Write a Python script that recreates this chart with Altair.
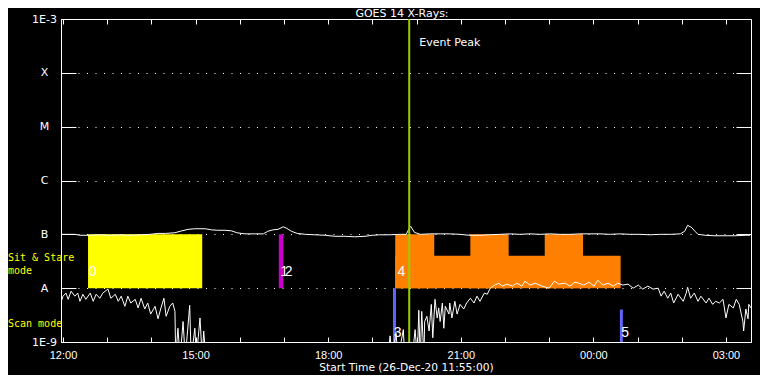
import altair as alt
import pandas as pd

# ---------------- data ----------------
START = "2020-12-26T12:00:00"   # minutes below are counted from this time (UTC)

TITLE = ["GOES 14 X-Rays:"]

# GOES long channel (1-8 A), W/m^2
long_t = [-3, 16, 23, 37, 50, 64, 77, 91, 105, 118,
          129, 139, 152, 159, 170, 179, 193, 202, 210, 220,
          229, 236, 247, 261, 272, 278, 285, 292, 299, 304,
          310, 318, 329, 342, 356, 369, 383, 396, 410, 420,
          430, 444, 458, 466, 470, 472, 477, 485, 498, 512,
          525, 539, 551, 566, 578, 593, 607, 620, 634, 648,
          661, 675, 688, 702, 715, 729, 743, 756, 770, 783,
          797, 810, 824, 838, 844, 848, 853, 858, 862, 872,
          885, 899, 912, 926, 933]
long_f = [1.00e-7, 1.00e-7, 0.96e-7, 0.96e-7, 0.98e-7, 0.96e-7, 0.98e-7, 0.96e-7, 0.98e-7, 1.00e-7,
          1.04e-7, 1.04e-7, 1.07e-7, 1.14e-7, 1.24e-7, 1.27e-7, 1.27e-7, 1.21e-7, 1.19e-7, 1.19e-7,
          1.16e-7, 1.07e-7, 1.02e-7, 1.02e-7, 1.02e-7, 1.14e-7, 1.21e-7, 1.24e-7, 1.38e-7, 1.29e-7,
          1.14e-7, 1.04e-7, 1.00e-7, 0.98e-7, 0.96e-7, 0.92e-7, 0.92e-7, 0.90e-7, 0.92e-7, 0.96e-7,
          0.98e-7, 0.98e-7, 1.00e-7, 1.00e-7, 1.29e-7, 1.41e-7, 1.09e-7, 1.00e-7, 1.02e-7, 1.02e-7,
          1.02e-7, 1.00e-7, 0.96e-7, 0.96e-7, 0.98e-7, 1.00e-7, 1.02e-7, 1.00e-7, 1.02e-7, 1.00e-7,
          1.02e-7, 1.00e-7, 1.00e-7, 1.02e-7, 1.02e-7, 1.02e-7, 1.00e-7, 1.02e-7, 1.00e-7, 1.00e-7,
          0.98e-7, 1.00e-7, 1.00e-7, 1.02e-7, 1.14e-7, 1.47e-7, 1.35e-7, 1.14e-7, 1.00e-7, 0.96e-7,
          0.94e-7, 0.94e-7, 0.94e-7, 0.96e-7, 0.96e-7]

# GOES short channel (0.5-4 A), W/m^2 (values below 1E-9 fall off the plot)
short_t = [-3, 0, 4, 7, 11, 16, 20, 23, 27, 31,
           37, 41, 45, 50, 54, 61, 65, 71, 75, 79,
           84, 88, 92, 98, 102, 106, 111, 115, 119, 125,
           129, 133, 137, 140, 145, 149, 152, 153, 156, 159,
           163, 166, 172, 174, 179, 181, 186, 189, 191, 194,
           441, 444, 447, 452, 455, 462, 464, 474, 478, 481,
           483, 485, 487, 490, 491, 494, 497, 500, 502, 505,
           508, 510, 512, 515, 517, 519, 524, 525, 528, 532,
           535, 539, 544, 548, 553, 558, 562, 566, 572, 576,
           580, 586, 592, 596, 603, 610, 616, 623, 627, 634,
           641, 650, 660, 667, 673, 682, 688, 695, 700, 707,
           714, 721, 726, 733, 740, 747, 753, 760, 767, 774,
           781, 787, 794, 801, 808, 812, 816, 821, 825, 829,
           835, 842, 846, 848, 852, 857, 862, 866, 873, 877,
           882, 886, 891, 896, 900, 904, 910, 914, 918, 923,
           924, 927, 930, 931, 934]
short_f = [0.53e-8, 0.71e-8, 0.81e-8, 0.62e-8, 0.88e-8, 0.71e-8, 0.81e-8, 0.57e-8, 0.77e-8, 0.62e-8,
           0.81e-8, 0.57e-8, 0.77e-8, 0.65e-8, 0.81e-8, 0.96e-8, 0.65e-8, 0.77e-8, 0.57e-8, 0.71e-8,
           0.46e-8, 0.71e-8, 0.53e-8, 0.62e-8, 0.43e-8, 0.65e-8, 0.41e-8, 0.53e-8, 0.33e-8, 0.46e-8,
           0.27e-8, 0.43e-8, 0.65e-8, 0.30e-8, 0.46e-8, 0.53e-8, 0.37e-8, 5e-10, 0.18e-8, 5e-10,
           0.24e-8, 5e-10, 0.48e-8, 5e-10, 0.18e-8, 5e-10, 0.28e-8, 5e-10, 0.16e-8, 5e-10,
           5e-10, 0.13e-8, 5e-10, 0.15e-8, 5e-10, 0.17e-8, 5e-10, 5e-10, 0.17e-8, 5e-10,
           0.39e-8, 5e-10, 0.37e-8, 5e-10, 0.24e-8, 0.30e-8, 0.16e-8, 0.50e-8, 0.12e-8, 0.62e-8,
           0.28e-8, 0.43e-8, 0.24e-8, 0.53e-8, 0.18e-8, 0.46e-8, 0.33e-8, 0.53e-8, 0.28e-8, 0.57e-8,
           0.33e-8, 0.50e-8, 0.41e-8, 0.53e-8, 0.65e-8, 0.53e-8, 0.71e-8, 0.57e-8, 0.81e-8, 0.77e-8,
           1.00e-8, 1.14e-8, 1.24e-8, 1.09e-8, 1.19e-8, 1.09e-8, 1.24e-8, 1.09e-8, 1.35e-8, 1.14e-8,
           1.24e-8, 1.09e-8, 1.00e-8, 1.35e-8, 1.19e-8, 1.24e-8, 1.09e-8, 1.29e-8, 1.24e-8, 1.14e-8,
           1.29e-8, 1.09e-8, 1.41e-8, 1.14e-8, 1.24e-8, 1.09e-8, 1.24e-8, 1.14e-8, 1.19e-8, 1.00e-8,
           1.14e-8, 0.96e-8, 1.09e-8, 0.96e-8, 1.00e-8, 0.71e-8, 0.88e-8, 0.65e-8, 0.81e-8, 0.53e-8,
           0.77e-8, 0.57e-8, 0.81e-8, 1.04e-8, 0.65e-8, 0.81e-8, 0.57e-8, 0.71e-8, 0.53e-8, 0.65e-8,
           0.50e-8, 0.57e-8, 0.53e-8, 0.62e-8, 0.28e-8, 0.50e-8, 0.43e-8, 0.62e-8, 0.50e-8, 0.24e-8,
           0.16e-8, 0.41e-8, 0.27e-8, 0.50e-8, 0.43e-8]

# IRIS sit & stare observations (boxes between A and B levels)
box_start = [34, 293, 451, 451, 553, 654]
box_end = [189, 299, 757, 504, 605, 706]
box_low = [1e-8, 1e-8, 1e-8, 1e-8, 1e-8, 1e-8]
box_high = [1e-7, 1e-7, 4.0e-8, 1e-7, 1e-7, 1e-7]
box_color = ["#ffff00", "#cc00cc", "#ff8000", "#ff8000", "#ff8000", "#ff8000"]

# IRIS scan observations (bars below A level)
scan_start = [448, 756]
scan_end = [452, 760]
scan_low = [1e-9, 1e-9]
scan_high = [1e-8, 4.0e-9]
scan_color = ["#6464ff", "#6464ff"]

# observation numbers
lab_text = ["0", "1", "2", "4", "3", "5"]
lab_t = [35, 295, 301, 454, 449, 758]
lab_f = [2.0e-8, 2.0e-8, 2.0e-8, 2.0e-8, 1.5e-9, 1.5e-9]

event_t = [470]
event_label = ["Event Peak"]
event_label_f = [3.6e-4]

mode_text = ["Sit & Stare", "\u00a0\u00a0mode", "Scan mode"]
mode_f = [3.56e-8, 2.08e-8, 2.2e-9]

y_vals = [1e-9, 1e-8, 1e-7, 1e-6, 1e-5, 1e-4, 1e-3]
y_names = ["1E-9", "A", "B", "C", "M", "X", "1E-3"]


def iso(m):
    return (pd.Timestamp(START) + pd.Timedelta(minutes=m)).strftime("%Y-%m-%dT%H:%M:%SZ")


long_df = pd.DataFrame({"t": [iso(m) for m in long_t], "f": long_f})
short_df = pd.DataFrame({"t": [iso(m) for m in short_t], "f": short_f})
box_df = pd.DataFrame({"t0": [iso(m) for m in box_start], "t1": [iso(m) for m in box_end],
                       "y0": box_low, "y1": box_high, "c": box_color})
scan_df = pd.DataFrame({"t0": [iso(m) for m in scan_start], "t1": [iso(m) for m in scan_end],
                        "y0": scan_low, "y1": scan_high, "c": scan_color})
lab_df = pd.DataFrame({"t": [iso(m) for m in lab_t], "f": lab_f, "s": lab_text})
ev_df = pd.DataFrame({"t": [iso(m) for m in event_t], "f": event_label_f, "s": event_label})
mode_df = pd.DataFrame({"f": mode_f, "s": mode_text})
title_df = pd.DataFrame({"s": TITLE})

# ---------------- scales & axes ----------------
xs = alt.Scale(type="utc", nice=False, domain=[
    alt.DateTime(year=2020, month=12, date=26, hours=11, minutes=57, seconds=17, utc=True),
    alt.DateTime(year=2020, month=12, date=27, hours=3, minutes=34, utc=True)])
ys = alt.Scale(type="log", nice=False, domain=[1e-9, 1e-3])

hour_vals = ([alt.DateTime(year=2020, month=12, date=26, hours=h, utc=True) for h in range(12, 24)] +
             [alt.DateTime(year=2020, month=12, date=27, hours=h, utc=True) for h in range(0, 4)])

label_expr_y = "[" + ",".join("'%s'" % n for n in y_names) + "][round(log(datum.value)/LN10)+9]"

x_bottom = alt.Axis(orient="bottom", values=hour_vals, offset=-5, tickSize=5, tickColor="white",
                    domain=False, grid=False, labelFlush=False, labelOverlap=False,
                    labelExpr="utchours(datum.value) % 3 == 0 ? utcFormat(datum.value, '%H:%M') : ''",
                    labelColor="white", labelFont="Liberation Sans", labelFontSize=11, labelPadding=7,
                    title="Start Time (26-Dec-20 11:55:00)", titleColor="white", titleFont="DejaVu Sans",
                    titleFontSize=10.7, titleFontWeight="normal", titlePadding=2)
x_top = alt.Axis(orient="top", values=hour_vals, offset=-5, tickSize=5, tickColor="white",
                 domain=False, grid=False, labels=False, title="")
y_left = alt.Axis(orient="left", values=y_vals, offset=-15, tickSize=15, tickColor="white",
                  domain=False, grid=True, gridColor="white", gridDash=[1, 7.5], gridWidth=1,
                  labelExpr=label_expr_y, labelAlign="center", labelPadding=17, labelOverlap=False,
                  labelFlush=False, labelColor="white", labelFont="DejaVu Sans", labelFontSize=11,
                  title="")
y_right = alt.Axis(orient="right", values=y_vals, offset=-15, tickSize=15, tickColor="white",
                   domain=False, grid=False, labels=False, title="")

# ---------------- layers ----------------
boxes = alt.Chart(box_df).mark_rect().encode(
    x=alt.X("t0:T", scale=xs, axis=x_bottom), x2="t1",
    y=alt.Y("y0:Q", scale=ys, axis=y_left), y2="y1",
    color=alt.Color("c:N", scale=None))

scans = alt.Chart(scan_df).mark_rect().encode(
    x=alt.X("t0:T", scale=xs, axis=None), x2="t1",
    y=alt.Y("y0:Q", scale=ys, axis=None), y2="y1",
    color=alt.Color("c:N", scale=None))

long_line = alt.Chart(long_df).mark_line(color="white", strokeWidth=1, clip=True).encode(
    x=alt.X("t:T", scale=xs, axis=x_top), y=alt.Y("f:Q", scale=ys, axis=y_right))

short_line = alt.Chart(short_df).mark_line(color="white", strokeWidth=1, clip=True).encode(
    x=alt.X("t:T", scale=xs, axis=None), y=alt.Y("f:Q", scale=ys, axis=None))

event_rule = alt.Chart(ev_df).mark_rule(color="#99cc00", strokeWidth=2).encode(
    x=alt.X("t:T", scale=xs, axis=None))

event_text = alt.Chart(ev_df).mark_text(align="left", baseline="middle", dx=10, color="white",
                                        font="DejaVu Sans", fontSize=11).encode(
    x=alt.X("t:T", scale=xs, axis=None), y=alt.Y("f:Q", scale=ys, axis=None), text="s:N")

num_text = alt.Chart(lab_df).mark_text(align="left", baseline="middle", color="white",
                                       font="Liberation Sans", fontSize=14).encode(
    x=alt.X("t:T", scale=xs, axis=None), y=alt.Y("f:Q", scale=ys, axis=None), text="s:N")

mode_labels = alt.Chart(mode_df).mark_text(align="left", baseline="middle", color="#ffff00",
                                           font="DejaVu Sans Mono", fontSize=10).encode(
    x=alt.value(-53), y=alt.Y("f:Q", scale=ys, axis=None), text="s:N")

title_text = alt.Chart(title_df).mark_text(align="center", baseline="middle", color="white",
                                           font="DejaVu Sans", fontSize=11).encode(
    x=alt.value(341), y=alt.value(-5), text="s:N")

chart = alt.layer(boxes, scans, long_line, short_line, event_rule, event_text, num_text,
                  mode_labels, title_text).properties(
    width=690, height=323,
    autosize=alt.AutoSizeParams(type="none"),
    padding={"left": 53, "top": 11, "right": 9, "bottom": 33},
    background="black",
).configure_view(stroke="white", strokeWidth=1)

chart.save("out.html", embed_options={"renderer": "svg", "actions": False})
